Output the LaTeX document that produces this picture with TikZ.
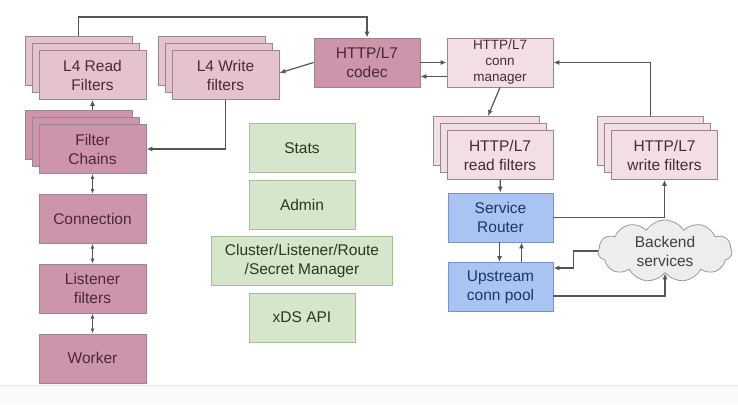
\documentclass[tikz,border=0pt]{standalone}
\usepackage{fontspec}
\setmainfont{Liberation Sans}
\usetikzlibrary{arrows.meta, positioning, shadows, shapes.symbols}

\definecolor{lfpink}{HTML}{E4C2CF}
\definecolor{mauve}{HTML}{CD95AC}
\definecolor{palepink}{HTML}{F2DFE6}
\definecolor{pinkline}{HTML}{9C8590}
\definecolor{pinktext}{HTML}{4A2836}
\definecolor{mgmtgreen}{HTML}{D6E6CB}
\definecolor{greenline}{HTML}{A5BD97}
\definecolor{greentext}{HTML}{26381F}
\definecolor{routeblue}{HTML}{A9C4F2}
\definecolor{blueline}{HTML}{7494C9}
\definecolor{bluetext}{HTML}{1F355E}
\definecolor{wire}{HTML}{555555}

\begin{document}
\begin{tikzpicture}[
        x=1pt, y=-1pt,
        every node/.style={font=\fontsize{15.5}{19}\selectfont},
        box/.style={rectangle, draw=pinkline, line width=0.8pt, minimum width=107pt, minimum height=49pt, inner sep=1pt, align=center, text=pinktext},
        stack/.style={copy shadow={shadow xshift=-14pt, shadow yshift=14pt, fill=#1, draw=pinkline, line width=0.8pt},
                      copy shadow={shadow xshift=-7pt, shadow yshift=7pt, fill=#1, draw=pinkline, line width=0.8pt}},
        l4box/.style={box, fill=lfpink, stack=lfpink},
        chainbox/.style={box, fill=mauve},
        httpbox/.style={box, fill=palepink, stack=palepink},
        mgmtbox/.style={box, fill=mgmtgreen, draw=greenline, text=greentext, minimum width=106pt},
        routebox/.style={box, fill=routeblue, draw=blueline, text=bluetext, minimum width=105pt},
        arrow/.style={-{Latex[length=6pt,width=5pt]}, wire, line width=1.2pt},
        twoway/.style={{Latex[length=5pt,width=4pt]}-{Latex[length=5pt,width=4pt]}, wire, line width=1.2pt}
    ]
        \useasboundingbox (0,0) rectangle (738,404);
        \fill[black!2] (0,385) rectangle (738,404);
        \draw[black!10, line width=1pt] (0,385) -- (738,385);

        % listener side
        \node[l4box] (lread) at (92.5,75) {L4 Read\\Filters};
        \node[l4box] (lwrite) at (225.5,75) {L4 Write\\filters};
        \node[chainbox, stack=mauve] (fchain) at (92.5,149) {Filter\\Chains};
        \node[chainbox, below=20pt of fchain] (conn) {Connection};
        \node[chainbox, below=20pt of conn] (lfilt) {Listener\\filters};
        \node[chainbox, below=20pt of lfilt] (worker) {Worker};

        % management
        \node[mgmtbox] (stats) at (302,148) {Stats};
        \node[mgmtbox, below=7pt of stats] (admin) {Admin};
        \node[mgmtbox, below=6pt of admin, minimum width=181pt] (xdsmgr) {Cluster/Listener/Route\\/Secret Manager};
        \node[mgmtbox, below=7pt of xdsmgr] (xdsapi) {xDS API};

        % http side
        \node[chainbox, minimum width=106pt] (codec) at (367,62.5) {HTTP/L7\\codec};
        \node[box, fill=palepink, minimum width=106pt, font=\fontsize{13.5}{16}\selectfont] (hcm) at (500,62.5) {HTTP/L7\\conn\\manager};
        \node[httpbox, minimum width=106pt] (hread) at (500,155) {HTTP/L7\\read filters};
        \node[httpbox, minimum width=106pt] (hwrite) at (664.5,155) {HTTP/L7\\write filters};
        \node[routebox] (router) at (500.5,217.5) {Service\\Router};
        \node[routebox] (upool) at (500.5,287) {Upstream\\conn pool};
        \node[cloud, cloud puffs=11, cloud puff arc=115, aspect=2.2, draw=black!40, fill=black!7, line width=0.8pt,
              minimum width=134pt, minimum height=62pt, inner sep=0pt, align=center, text=black!75] (backend) at (665,251) {Backend\\services};

        \coordinate (lreadtop) at ([xshift=-14pt, yshift=14pt]lread.north);
        \coordinate (hreadtop) at ([xshift=-12pt, yshift=14pt]hread.north);
        \coordinate (hwritetop) at ([xshift=-14pt, yshift=14pt]hwrite.north);
        \coordinate (fchaintop) at ([yshift=14pt]fchain.north);

        \draw[arrow] (lreadtop) -- ++(0,-19) -| (codec.north);
        \draw[arrow] (codec.west) -- ([yshift=2pt]lwrite.east);
        \draw[arrow] (codec.east) -- (hcm.west);
        \draw[arrow] ([yshift=-14pt]hcm.west) -- ([yshift=-14pt]codec.east);
        \draw[arrow] (hcm.south) -- (hreadtop);
        \draw[arrow] (hwritetop) |- (hcm.east);
        \draw[arrow] (lwrite.south) |- (fchain.east);
        \draw[arrow] (fchaintop) -- (lread.south);
        \draw[twoway] (fchain) -- (conn);
        \draw[twoway] (conn) -- (lfilt);
        \draw[twoway] (lfilt) -- (worker);
        \draw[arrow] (hread) -- (router);
        \draw[arrow] (router.east) -| (hwrite.south);
        \draw[arrow] ([xshift=-1pt]router.south) -- ([xshift=-1pt]upool.north);
        \draw[arrow] ([xshift=21pt]upool.north) -- ([xshift=21pt]router.south);
        \draw[arrow] (backend.west) -- ++(-24,0) |- ([yshift=19pt]upool.east);
        \draw[arrow] ([yshift=-9pt]upool.east) -| (backend.south);
    \end{tikzpicture}
\end{document}
